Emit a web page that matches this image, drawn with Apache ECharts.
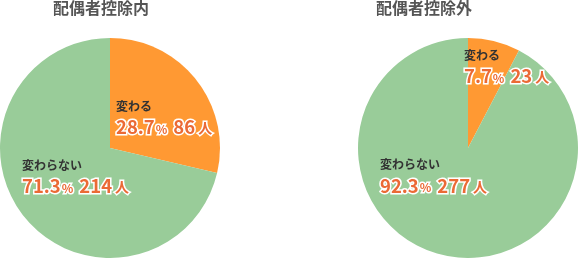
<!DOCTYPE html>
<html><head><meta charset="utf-8">
<script src="https://cdn.jsdelivr.net/npm/echarts@6/dist/echarts.min.js"></script>
<style>html,body{margin:0;padding:0;background:#fff}#c{width:578px;height:258px}</style>
</head><body><div id="c"></div>
<script>
const titles = ['配偶者控除内', '配偶者控除外'];
const categories = ['変わる', '変わらない'];
const countsInside = [86, 214];
const pctInside = ['28.7', '71.3'];
const countsOutside = [23, 277];
const pctOutside = ['7.7', '92.3'];
const unit = '人';

const colors = ['#FF9933', '#99CC99'];
const FONT = '"Noto Sans CJK JP", "Noto Sans", sans-serif';
const labelPos = [
  [[116, 97], [22, 156]],
  [[464, 46], [380, 155.5]]
];
function mkData(counts, pcts) {
  return categories.map((c, i) => ({ name: c, value: counts[i], pct: pcts[i] }));
}
const border = { textBorderColor: '#fff', textBorderWidth: 3 };
const rich = {
  n: { fontFamily: FONT, fontSize: 12, fontWeight: 'bold', color: '#333', lineHeight: 18 },
  v: Object.assign({ fontFamily: FONT, fontSize: 18.5, fontWeight: 'bold', color: '#EB6A35', lineHeight: 24 }, border),
  w: Object.assign({ fontFamily: FONT, fontSize: 18.5, fontWeight: 'bold', color: '#EB6A35', lineHeight: 24, padding: [0, 0, 0, 6] }, border),
  p: Object.assign({ fontFamily: FONT, fontSize: 12, fontWeight: 'bold', color: '#EB6A35', lineHeight: 24, padding: [4, 0, 0, 1] }, border),
  u: Object.assign({ fontFamily: FONT, fontSize: 14, fontWeight: 'bold', color: '#EB6A35', lineHeight: 24, padding: [2, 0, 0, 3] }, border)
};
function mkSeries(idx, data, cx) {
  return {
    type: 'pie', center: [cx, 148], radius: [0, 110], startAngle: 90, clockwise: true,
    silent: true, animation: false, data: data,
    itemStyle: { borderWidth: 0 },
    color: colors,
    label: {
      show: true, position: 'inside',
      formatter: p => '{n|' + p.name + '}\n{v|' + p.data.pct + '}{p|%}{w|' + p.value + '}{u|' + unit + '}',
      rich: rich, align: 'left'
    },
    labelLine: { show: false },
    labelLayout: function (params) {
      const pos = labelPos[idx][params.dataIndex];
      return { x: pos[0], y: pos[1], align: 'left', verticalAlign: 'top' };
    }
  };
}
const tStyle = { fontFamily: FONT, fontSize: 16, fontWeight: 'bold', color: '#555' };
const chart = echarts.init(document.getElementById('c'), null, { renderer: 'canvas' });
chart.setOption({
  backgroundColor: '#fff',
  title: [
    { text: titles[0], left: 53, top: 0, padding: 0, textStyle: tStyle },
    { text: titles[1], left: 376, top: 0, padding: 0, textStyle: tStyle }
  ],
  series: [
    mkSeries(0, mkData(countsInside, pctInside), 110),
    mkSeries(1, mkData(countsOutside, pctOutside), 468)
  ]
});
</script></body></html>
